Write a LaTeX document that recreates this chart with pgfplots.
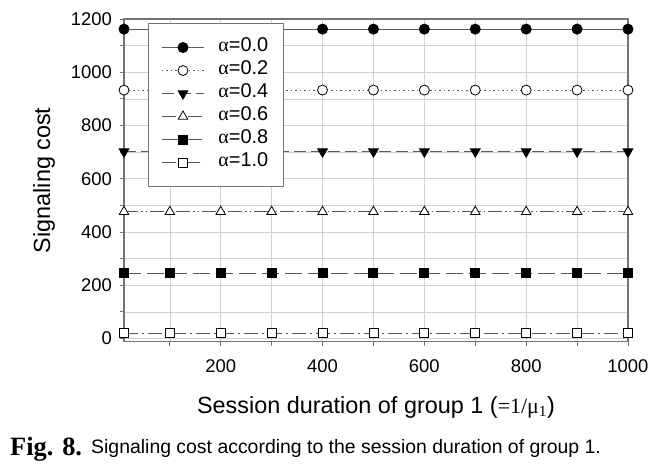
\documentclass[border=0pt]{standalone}
\usepackage{fontspec}
\setmainfont{Liberation Sans}
\newfontfamily\serif{Liberation Serif}
\usepackage{pgfplots}
\pgfplotsset{compat=1.18}
\definecolor{axgray}{gray}{0.45}
\definecolor{gridgray}{gray}{0.82}
\definecolor{linegray}{gray}{0.35}
\begin{document}
\begin{tikzpicture}
\useasboundingbox (0,0) rectangle (667bp,466bp);
\begin{axis}[
  at={(124bp,124.3bp)}, anchor=south west,
  scale only axis, width=504bp, height=322.7bp,
  xmin=10, xmax=1000, ymin=-12, ymax=1200,
  xtick={200,400,...,1000}, minor xtick={100,300,...,900},
  ytick={0,200,...,1200}, minor ytick={100,300,...,1100},
  grid=both,
  major grid style={gridgray, line width=0.6bp},
  minor grid style={gridgray, line width=0.6bp},
  axis line style={axgray, line width=1.3bp},
  tick style={axgray, line width=0.8bp},
  major tick length=4bp, minor tick length=4bp,
  tick align=outside, xtick pos=left, ytick pos=left,
  /pgf/number format/assume math mode=true,
  /pgf/number format/1000 sep={},
  tick label style={font=\fontsize{18.5}{20}\selectfont, inner sep=0pt},
  xticklabel style={anchor=north, yshift=-14bp},
  yticklabel style={anchor=east, xshift=-8bp},
  xlabel={Session duration of group 1 ({\serif\fontsize{22}{24}\selectfont =1/μ\textsubscript{1}})},
  ylabel={Signaling cost},
  label style={font=\fontsize{23.5}{25}\selectfont},
  xlabel style={at={(axis description cs:0.5,-0.221)}, anchor=base},
  ylabel style={at={(axis description cs:-0.1468,0.5)}, anchor=base, rotate=0},
  legend style={at={(rel axis cs:0.0476,0.9876)}, anchor=north west,
    draw=axgray, line width=1bp, fill=white,
    inner xsep=13bp, inner ysep=12.5bp,
    font=\fontsize{20}{22}\selectfont,
    nodes={text height=12bp, text depth=4bp, inner ysep=3.5bp, inner xsep=2bp},
    row sep=0bp,
    /tikz/every odd column/.append style={column sep=12bp}},
  legend cell align=left,
  legend image code/.code={\draw[mark repeat=2,mark phase=2] plot coordinates {(0bp,0bp)(21bp,0bp)(42bp,0bp)};},
]
\addplot[linegray, line width=1bp, mark=*, mark size=5bp, mark options={solid, fill=black, draw=black}]
 coordinates {(10,1162)(100,1162)(200,1162)(300,1162)(400,1162)(500,1162)(600,1162)(700,1162)(800,1162)(900,1162)(1000,1162)};
\addlegendentry{{\serif α}=0.0}
\addplot[linegray, line width=1bp, dash pattern=on 1.5bp off 3bp, mark=*, mark size=5bp, mark options={solid, fill=white, draw=black, line width=0.8bp}]
 coordinates {(10,933)(100,933)(200,933)(300,933)(400,933)(500,933)(600,933)(700,933)(800,933)(900,933)(1000,933)};
\addlegendentry{{\serif α}=0.2}
\addplot[linegray, line width=1bp, dash pattern=on 12bp off 5bp, mark=triangle*, mark size=5.5bp, mark options={solid, rotate=180, fill=black, draw=black}]
 coordinates {(10,702)(100,702)(200,702)(300,702)(400,702)(500,702)(600,702)(700,702)(800,702)(900,702)(1000,702)};
\addlegendentry{{\serif α}=0.4}
\addplot[linegray, line width=1bp, dash pattern=on 14bp off 3bp on 1.5bp off 3bp on 1.5bp off 3bp, mark=triangle*, mark size=5.5bp, mark options={solid, fill=white, draw=black, line width=0.8bp}]
 coordinates {(10,476)(100,476)(200,476)(300,476)(400,476)(500,476)(600,476)(700,476)(800,476)(900,476)(1000,476)};
\addlegendentry{{\serif α}=0.6}
\addplot[linegray, line width=1bp, dash pattern=on 17bp off 6bp, mark=square*, mark size=4.5bp, mark options={solid, fill=black, draw=black}]
 coordinates {(10,245)(100,245)(200,245)(300,245)(400,245)(500,245)(600,245)(700,245)(800,245)(900,245)(1000,245)};
\addlegendentry{{\serif α}=0.8}
\addplot[linegray, line width=1bp, dash pattern=on 14bp off 4bp on 2bp off 4bp, mark=square*, mark size=4.5bp, mark options={solid, fill=white, draw=black, line width=0.8bp}]
 coordinates {(10,19.5)(100,19.5)(200,19.5)(300,19.5)(400,19.5)(500,19.5)(600,19.5)(700,19.5)(800,19.5)(900,19.5)(1000,19.5)};
\addlegendentry{{\serif α}=1.0}
\end{axis}
\node[anchor=base west, inner sep=0pt] at (10bp,11bp) {\fontsize{26.5}{28}\selectfont\serif\bfseries Fig. 8.};
\node[anchor=base west, inner sep=0pt] at (91bp,13bp) {\fontsize{19.5}{21}\selectfont Signaling cost according to the session duration of group 1.};
\end{tikzpicture}
\end{document}
